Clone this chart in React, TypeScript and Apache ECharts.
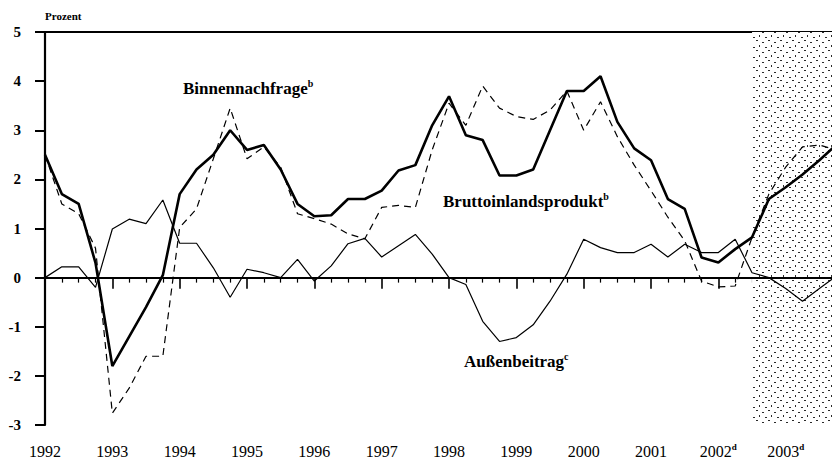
import React, { useEffect, useRef } from "react";
import * as echarts from "echarts";

// Quarterly data, index 0 = 1992 Q1
const yearLabels = ["1992", "1993", "1994", "1995", "1996", "1997", "1998", "1999", "2000", "2001", "2002", "2003"];
const yearNotes = ["", "", "", "", "", "", "", "", "", "", "d", "d"];

const bruttoinlandsprodukt = [
  2.5, 1.7, 1.5, 0.3, -1.8, -1.2, -0.6, 0.05, 1.7, 2.2, 2.5, 3.0,
  2.6, 2.7, 2.2, 1.5, 1.25, 1.27, 1.6, 1.6, 1.77, 2.18, 2.29, 3.1,
  3.69, 2.9, 2.8, 2.08, 2.08, 2.2, 3.0, 3.8, 3.8, 4.1, 3.17, 2.63,
  2.39, 1.6, 1.4, 0.41, 0.31, 0.58, 0.82, 1.6, 1.84, 2.1, 2.39, 2.7,
];
const binnennachfrage = [
  2.5, 1.5, 1.3, 0.6, -2.76, -2.25, -1.6, -1.6, 1.02, 1.4, 2.42, 3.45,
  2.42, 2.66, 2.25, 1.3, 1.2, 1.09, 0.89, 0.79, 1.43, 1.47, 1.43, 2.6,
  3.55, 3.1, 3.9, 3.45, 3.28, 3.22, 3.41, 3.8, 3.0, 3.58, 2.87, 2.29,
  1.77, 1.23, 0.75, -0.07, -0.19, -0.17, 0.82, 1.7, 2.25, 2.66, 2.7, 2.6,
];
const aussenbeitrag = [
  0, 0.22, 0.22, -0.2, 0.99, 1.19, 1.1, 1.58, 0.7, 0.7, 0.2, -0.4,
  0.17, 0.1, 0.0, 0.37, -0.07, 0.24, 0.69, 0.8, 0.42, 0.65, 0.88, 0.48,
  0.0, -0.14, -0.89, -1.3, -1.22, -0.96, -0.48, 0.07, 0.78, 0.61, 0.51, 0.51,
  0.68, 0.42, 0.68, 0.51, 0.51, 0.78, 0.1, 0.0, -0.22, -0.48, -0.22, 0.03,
];

const forecastStart = 42; // 2002 Q3
const xAxisMax = 46.75;
const yMin = -3;
const yMax = 5;

const FONT = "Liberation Serif";

export default function App() {
  const ref = useRef<HTMLDivElement>(null);

  useEffect(() => {
    if (!ref.current) return;
    const chart = echarts.init(ref.current, null, { renderer: "svg" });

    const tile = document.createElement("canvas");
    tile.width = 12;
    tile.height = 10;
    const ctx = tile.getContext("2d")!;
    ctx.fillStyle = "#ffffff";
    ctx.fillRect(0, 0, 12, 10);
    ctx.fillStyle = "#2a2a2a";
    [
      [0, 0, 2, 1],
      [6, 2, 2, 1],
      [3, 5, 1, 2],
      [9, 7, 2, 1],
    ].forEach(([x, y, w, h]) => ctx.fillRect(x, y, w, h));

    const toPairs = (arr: number[]) => arr.map((v, i) => [i, v]);

    const richLabel = {
      a: { fontFamily: FONT, fontWeight: "bold", fontSize: 17, lineHeight: 20, fill: "#000" },
      s: { fontFamily: FONT, fontWeight: "bold", fontSize: 10, lineHeight: 12, verticalAlign: "top", fill: "#000" },
    };

    const option: any = {
      animation: false,
      backgroundColor: "#ffffff",
      grid: { left: 45, right: 0, top: 32, bottom: 37, containLabel: false },
      xAxis: [
        {
          type: "value",
          min: 0,
          max: xAxisMax,
          interval: 4,
          axisLine: { show: true, lineStyle: { color: "#000", width: 2.2 } },
          axisTick: { show: true, length: 11, lineStyle: { color: "#000", width: 1.6 } },
          minorTick: { show: true, splitNumber: 4, length: 5, lineStyle: { color: "#000", width: 1.2 } },
          splitLine: { show: false },
          axisLabel: {
            margin: 17,
            formatter: (value: number) => {
              if (value % 4 !== 0) return "";
              const k = value / 4;
              const y = yearLabels[k];
              if (!y) return "";
              return yearNotes[k] ? `{y|${y}}{s|${yearNotes[k]}}` : `{y|${y}}`;
            },
            rich: {
              y: { fontFamily: FONT, fontSize: 16, color: "#000", lineHeight: 18 },
              s: { fontFamily: FONT, fontSize: 9, fontWeight: "bold", color: "#000", verticalAlign: "top", lineHeight: 10 },
            },
            showMaxLabel: false,
          },
        },
        {
          type: "value",
          position: "top",
          min: 0,
          max: xAxisMax,
          axisLine: { show: true, lineStyle: { color: "#000", width: 2.2 } },
          axisTick: { show: false },
          axisLabel: { show: false },
          splitLine: { show: false },
        },
      ],
      yAxis: {
        type: "value",
        min: yMin,
        max: yMax,
        interval: 1,
        axisLine: { show: true, lineStyle: { color: "#000", width: 2.2 } },
        axisTick: { show: true, length: 10, lineStyle: { color: "#000", width: 2 } },
        splitLine: { show: false },
        axisLabel: {
          margin: 24,
          fontFamily: FONT,
          fontWeight: "bold",
          fontSize: 15,
          color: "#000",
        },
      },
      graphic: [
        {
          type: "text",
          left: 45,
          top: 10,
          style: { text: "Prozent", font: `bold 11px "${FONT}"`, fill: "#000" },
        },
        {
          type: "text",
          left: 183,
          top: 78,
          style: { text: "{a|Binnennachfrage}{s|b}", rich: richLabel },
        },
        {
          type: "text",
          left: 443,
          top: 191,
          style: { text: "{a|Bruttoinlandsprodukt}{s|b}", rich: richLabel },
        },
        {
          type: "text",
          left: 464,
          top: 351,
          style: { text: "{a|Außenbeitrag}{s|c}", rich: richLabel },
        },
      ],
      series: [
        {
          name: "Außenbeitrag",
          type: "line",
          data: toPairs(aussenbeitrag),
          showSymbol: false,
          symbol: "none",
          lineStyle: { color: "#000", width: 1.2 },
          z: 3,
          markArea: {
            silent: true,
            itemStyle: { color: { image: tile, repeat: "repeat" } },
            data: [[{ xAxis: forecastStart }, { xAxis: xAxisMax }]],
          },
          markLine: {
            silent: true,
            symbol: "none",
            label: { show: false },
            lineStyle: { color: "#000", width: 2.2, type: "solid" },
            data: [{ yAxis: 0 }],
          },
        },
        {
          name: "Binnennachfrage",
          type: "line",
          data: toPairs(binnennachfrage),
          showSymbol: false,
          symbol: "none",
          lineStyle: { color: "#000", width: 1.2, type: [7, 5] },
          z: 4,
        },
        {
          name: "Bruttoinlandsprodukt",
          type: "line",
          data: toPairs(bruttoinlandsprodukt),
          showSymbol: false,
          symbol: "none",
          lineStyle: { color: "#000", width: 2.6 },
          z: 5,
        },
      ],
    };

    chart.setOption(option);
    return () => chart.dispose();
  }, []);

  return (
    <div
      ref={ref}
      style={{ position: "fixed", left: 0, top: 0, width: 832, height: 462, background: "#fff" }}
    />
  );
}
